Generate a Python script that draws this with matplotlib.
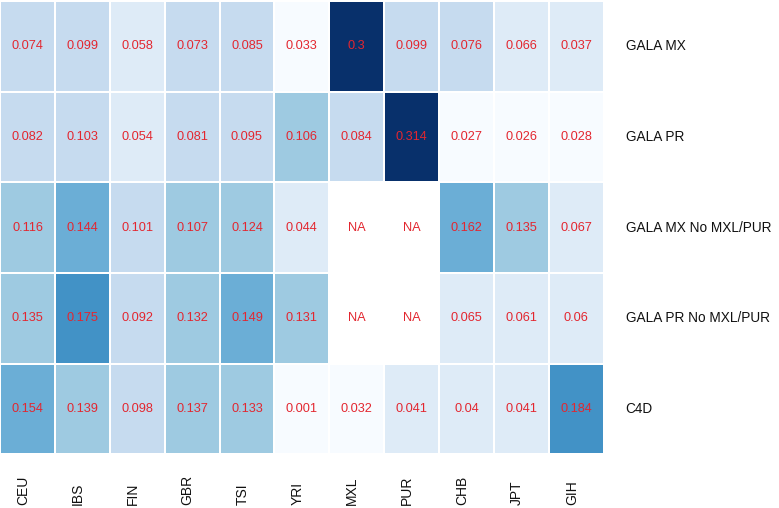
import matplotlib
matplotlib.use("Agg")
from matplotlib import pyplot as plt
import numpy as np

plt.rcParams['font.family'] = ['Liberation Sans', 'DejaVu Sans']

# populations (columns) and cohorts (rows)
cols = ['CEU', 'IBS', 'FIN', 'GBR', 'TSI', 'YRI', 'MXL', 'PUR', 'CHB', 'JPT', 'GIH']
rows = ['GALA MX', 'GALA PR', 'GALA MX No MXL/PUR', 'GALA PR No MXL/PUR', 'C4D']

gala_mx    = [0.074, 0.099, 0.058, 0.073, 0.085, 0.033, 0.3,   0.099, 0.076, 0.066, 0.037]
gala_pr    = [0.082, 0.103, 0.054, 0.081, 0.095, 0.106, 0.084, 0.314, 0.027, 0.026, 0.028]
gala_mx_no = [0.116, 0.144, 0.101, 0.107, 0.124, 0.044, np.nan, np.nan, 0.162, 0.135, 0.067]
gala_pr_no = [0.135, 0.175, 0.092, 0.132, 0.149, 0.131, np.nan, np.nan, 0.065, 0.061, 0.06]
c4d        = [0.154, 0.139, 0.098, 0.137, 0.133, 0.001, 0.032, 0.041, 0.04,  0.041, 0.184]

data = np.array([gala_mx, gala_pr, gala_mx_no, gala_pr_no, c4d])
nr, nc = data.shape

fig = plt.figure(figsize=(7.79, 5.08), dpi=100)
ax = fig.add_axes([0.0, 0.106, 0.775, 0.892])

cmap = plt.get_cmap('Blues', 9).copy()
cmap.set_bad('white')
ax.pcolormesh(np.ma.masked_invalid(data), cmap=cmap,
              vmin=np.nanmin(data), vmax=np.nanmax(data),
              edgecolors='white', linewidth=1.1)
ax.set_xlim(0, nc)
ax.set_ylim(nr, 0)
ax.axis('off')

for i in range(nr):
    for j in range(nc):
        v = data[i, j]
        s = 'NA' if np.isnan(v) else f'{v:g}'
        ax.text(j + 0.5, i + 0.5, s, ha='center', va='center',
                color='#e3262f', fontsize=9.2)
    ax.text(nc + 0.4, i + 0.5, rows[i], ha='left', va='center',
            color='#111111', fontsize=9.8)

trans = matplotlib.transforms.blended_transform_factory(ax.transData, fig.transFigure)
for j, c in enumerate(cols):
    ax.text(j + 0.42, 0.006, c, rotation=90, ha='center', va='bottom',
            transform=trans, fontsize=10, color='#111111')

fig.savefig('out.png', dpi=100)
